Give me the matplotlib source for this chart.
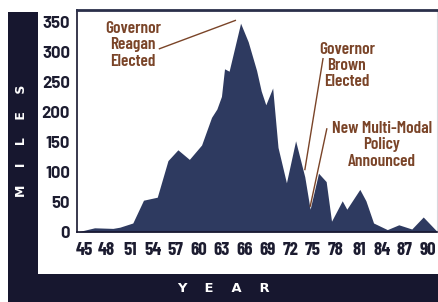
import matplotlib
matplotlib.use("Agg")
import matplotlib.pyplot as plt
from matplotlib.patches import Rectangle

# ---- data ----
years = [44.1, 46.4, 48.8, 49.7, 51.4, 52.8, 54.6, 56.0, 57.3, 58.8, 60.4,
         61.7, 62.4, 63.0, 63.4, 64.0, 65.5, 66.5, 67.6, 68.2, 68.8, 69.7,
         70.4, 71.5, 72.7, 73.9, 74.6, 75.7, 76.7, 77.4, 78.8, 79.4, 81.1,
         81.9, 82.9, 84.7, 86.2, 87.9, 89.4, 91.2]
miles = [0, 7, 6, 8, 15, 53, 58, 119, 137, 121, 145,
         191, 205, 226, 272, 268, 348, 317, 269, 235, 212, 240,
         141, 82, 152, 92, 38, 98, 84, 18, 52, 38, 71,
         52, 15, 4, 12, 5, 25, 1]
xticks = [45, 48, 51, 54, 57, 60, 63, 66, 69, 72, 75, 78, 81, 84, 87, 90]
yticks = [0, 50, 100, 150, 200, 250, 300, 350]

notes = ["Governor\nReagan\nElected", "Governor\nBrown\nElected",
         "New Multi-Modal\nPolicy\nAnnounced"]
note_text_xy = [(51.4, 312), (79.4, 278), (84.0, 145)]
note_line_x = [(54.8, 64.9), (76.3, 73.9), (76.8, 74.6)]
note_line_y = [(305, 353), (290, 103), (173, 42)]

band = "#17172f"
fill = "#2e3a60"
brown = "#7a4428"
ink = "#1c1c30"

W, H = 439, 302
fig = plt.figure(figsize=(W / 100, H / 100), dpi=100)
fig.patch.set_facecolor("white")

# dark frame: left band and bottom band
fig.add_artist(Rectangle((8 / W, 0), 30 / W, 1 - 12 / H, transform=fig.transFigure,
                         facecolor=band, edgecolor="none", zorder=0))
fig.add_artist(Rectangle((8 / W, 0), 1 - 8 / W, 28 / H, transform=fig.transFigure,
                         facecolor=band, edgecolor="none", zorder=0))

ax = fig.add_axes([77 / W, 1 - 232 / H, 360 / W, 222 / H])
ax.set_facecolor("white")
ax.fill_between(years, miles, 0, color=fill, linewidth=0)
ax.set_xlim(44.1, 91.2)
ax.set_ylim(0, 370)

for s in ["left", "bottom"]:
    ax.spines[s].set_color(band)
    ax.spines[s].set_linewidth(1.2)
ax.spines["top"].set_color("#2a2f4a")
ax.spines["top"].set_linewidth(2.0)
ax.spines["right"].set_color("#d8d8de")
ax.spines["right"].set_linewidth(0.8)

ax.set_xticks(xticks)
ax.set_xticklabels([str(t) for t in xticks])
ax.set_yticks(yticks)
ax.set_yticklabels([str(t) for t in yticks])
ax.tick_params(length=0)
ax.tick_params(axis="x", pad=7)
ax.tick_params(axis="y", pad=5)
for lbl in ax.get_xticklabels():
    lbl.set_fontfamily("Barlow Condensed")
    lbl.set_fontweight(700)
    lbl.set_fontsize(13.5)
    lbl.set_color(ink)
for lbl in ax.get_yticklabels():
    lbl.set_fontfamily("Barlow")
    lbl.set_fontweight(700)
    lbl.set_fontsize(12)
    lbl.set_color(ink)

for txt, txy, lx, ly in zip(notes, note_text_xy, note_line_x, note_line_y):
    ax.text(txy[0], txy[1], txt, ha="center", va="center", color=brown,
            fontfamily="Barlow Condensed", fontweight=600, fontsize=12.5,
            linespacing=1.1)
    ax.plot(lx, ly, color=brown, lw=1.0, solid_capstyle="butt")

fig.text(22 / W, 1 - 141 / H, "M    I    L    E    S", rotation=90,
         ha="center", va="center", color="white", fontweight="bold",
         fontfamily="DejaVu Sans", fontsize=9)
fig.text(223 / W, 1 - 288 / H, "Y    E    A    R", ha="center", va="center",
         color="white", fontweight="bold", fontfamily="DejaVu Sans", fontsize=9.4)

fig.savefig("out.png", dpi=100, facecolor="white")
